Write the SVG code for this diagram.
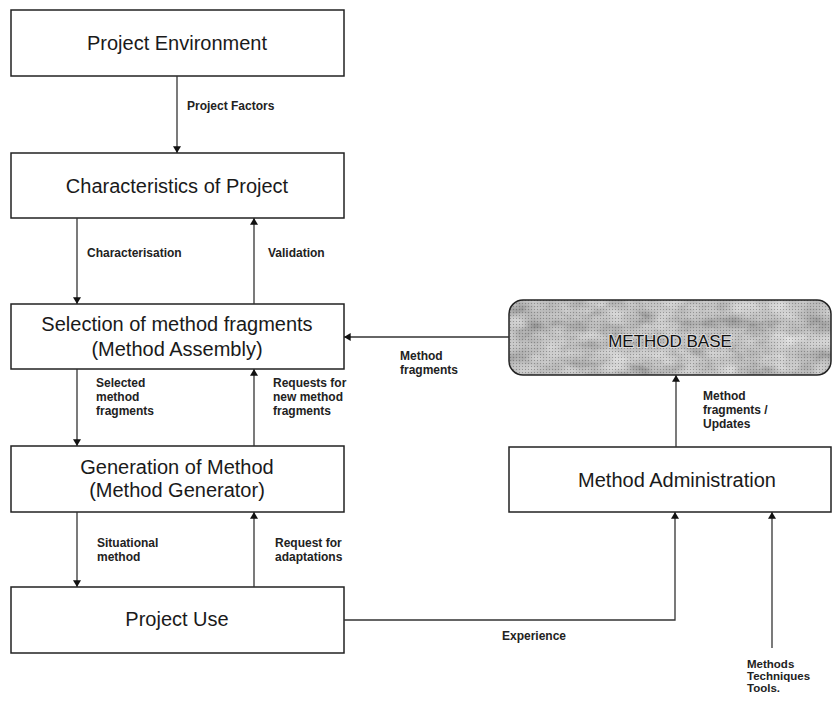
<svg xmlns="http://www.w3.org/2000/svg" width="833" height="701" viewBox="0 0 833 701">
<style>
.box{fill:#fff;stroke:#222;stroke-width:1.5}
.t{font-family:"Liberation Sans",Arial,sans-serif;font-size:20px;fill:#1a1a1a;text-anchor:middle}
.l{font-family:"Liberation Sans",Arial,sans-serif;font-size:12px;font-weight:bold;fill:#222}
.s{font-family:"Liberation Sans",Arial,sans-serif;font-size:11.5px;font-weight:bold;fill:#222}
.c{fill:none;stroke:#333;stroke-width:1.3}
</style>
<defs>
<marker id="ah" viewBox="0 0 10 12" refX="10" refY="6" markerWidth="10" markerHeight="8" markerUnits="userSpaceOnUse" orient="auto">
<path d="M0,0 L10,6 L0,12 z" fill="#111"/>
</marker>
<filter id="tex" x="0" y="0" width="1" height="1">
<feTurbulence type="fractalNoise" baseFrequency="0.035 0.06" numOctaves="4" seed="7" result="n"/>
<feColorMatrix in="n" type="matrix" values="0.6 0 0 0 0.22  0.6 0 0 0 0.22  0.6 0 0 0 0.22  0 0 0 0 1" result="g"/>
<feComposite in="g" in2="SourceGraphic" operator="in"/>
</filter>
<pattern id="dots" width="3" height="3" patternUnits="userSpaceOnUse">
<rect x="0" y="0" width="1" height="1" fill="#444"/>
<rect x="1.5" y="1.5" width="1" height="1" fill="#ddd"/>
</pattern>
</defs>

<g id="project-environment">
<rect class="box" x="11" y="10" width="333" height="66"/>
<text class="t" x="177" y="50">Project Environment</text>
</g>
<g id="characteristics">
<rect class="box" x="11" y="153" width="333" height="65"/>
<text class="t" x="177" y="193">Characteristics of Project</text>
</g>
<g id="selection">
<rect class="box" x="11" y="304" width="333" height="65"/>
<text class="t" x="177" y="331">Selection of method fragments</text>
<text class="t" x="177" y="356">(Method Assembly)</text>
</g>
<g id="generation">
<rect class="box" x="11" y="446" width="333" height="66"/>
<text class="t" x="177" y="474">Generation of Method</text>
<text class="t" x="177" y="497">(Method Generator)</text>
</g>
<g id="project-use">
<rect class="box" x="11" y="587" width="333" height="66"/>
<text class="t" x="177" y="626">Project Use</text>
</g>
<g id="method-base">
<rect x="509" y="300" width="322" height="75" rx="14" ry="14" fill="#999" filter="url(#tex)"/>
<rect x="509" y="300" width="322" height="75" rx="14" ry="14" fill="url(#dots)" opacity="0.4"/>
<rect x="509" y="300" width="322" height="75" rx="14" ry="14" fill="none" stroke="#222" stroke-width="1.5"/>
<text x="670" y="347" font-family="Liberation Sans,Arial,sans-serif" font-size="17" fill="#111" stroke="#ddd" stroke-width="2" paint-order="stroke" text-anchor="middle">METHOD BASE</text>
</g>
<g id="method-administration">
<rect class="box" x="509" y="447" width="322" height="65"/>
<text class="t" x="677" y="487">Method Administration</text>
</g>

<g id="connectors">
<line class="c" x1="177" y1="76" x2="177" y2="153" marker-end="url(#ah)"/>
<line class="c" x1="77" y1="218" x2="77" y2="304" marker-end="url(#ah)"/>
<line class="c" x1="254" y1="304" x2="254" y2="218" marker-end="url(#ah)"/>
<line class="c" x1="77" y1="369" x2="77" y2="446" marker-end="url(#ah)"/>
<line class="c" x1="254" y1="446" x2="254" y2="369" marker-end="url(#ah)"/>
<line class="c" x1="77" y1="512" x2="77" y2="587" marker-end="url(#ah)"/>
<line class="c" x1="254" y1="587" x2="254" y2="512" marker-end="url(#ah)"/>
<line class="c" x1="509" y1="337" x2="344" y2="337" marker-end="url(#ah)"/>
<line class="c" x1="676" y1="447" x2="676" y2="375" marker-end="url(#ah)"/>
<polyline class="c" points="344,620 675,620 675,512" marker-end="url(#ah)"/>
<line class="c" x1="772" y1="648" x2="772" y2="512" marker-end="url(#ah)"/>
</g>

<g id="labels">
<text class="l" x="187" y="110">Project Factors</text>
<text class="l" x="87" y="257">Characterisation</text>
<text class="l" x="268" y="257">Validation</text>
<text class="l" x="96" y="387">Selected</text>
<text class="l" x="96" y="401">method</text>
<text class="l" x="96" y="415">fragments</text>
<text class="l" x="273" y="387">Requests for</text>
<text class="l" x="273" y="401">new method</text>
<text class="l" x="273" y="415">fragments</text>
<text class="l" x="97" y="547">Situational</text>
<text class="l" x="97" y="561">method</text>
<text class="l" x="275" y="547">Request for</text>
<text class="l" x="275" y="561">adaptations</text>
<text class="l" x="400" y="360">Method</text>
<text class="l" x="400" y="374">fragments</text>
<text class="l" x="703" y="400">Method</text>
<text class="l" x="703" y="414">fragments /</text>
<text class="l" x="703" y="428">Updates</text>
<text class="l" x="502" y="640">Experience</text>
<text class="s" x="747" y="668">Methods</text>
<text class="s" x="747" y="680">Techniques</text>
<text class="s" x="747" y="692">Tools.</text>
</g>
</svg>
